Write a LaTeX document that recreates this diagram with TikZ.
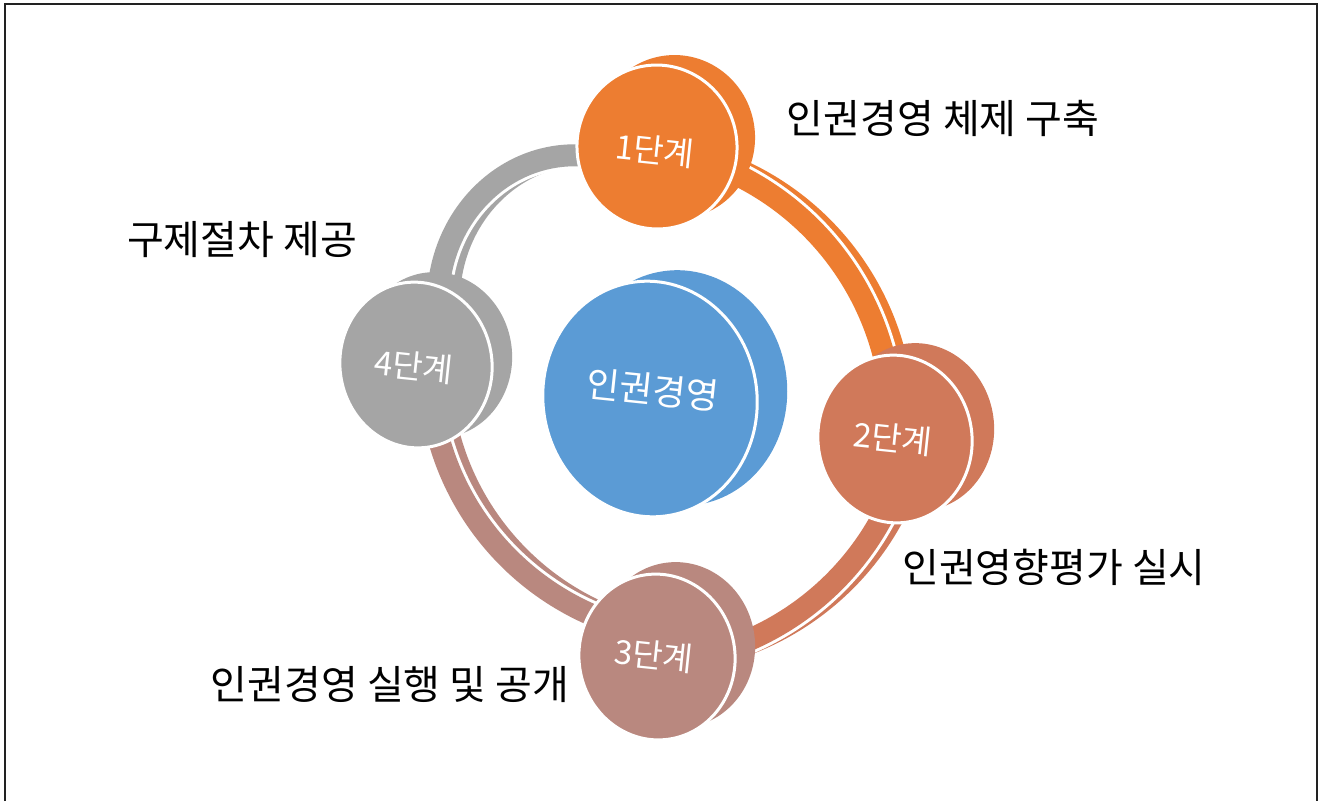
\documentclass[tikz,border=0pt]{standalone}
\usepackage{fontspec}
\newfontfamily\kr{Noto Sans CJK KR}
\definecolor{cOrange}{HTML}{ED7D31}
\definecolor{cRust}{HTML}{D0795A}
\definecolor{cRose}{HTML}{B9887F}
\definecolor{cGray}{HTML}{A5A5A5}
\definecolor{cBlue}{HTML}{5B9BD5}
\definecolor{cFrame}{HTML}{222222}
\tikzset{
  band/.style={line width=22pt, line cap=butt},
  gapband/.style={draw=white, line width=28pt, line cap=butt},
  diskface/.style={draw=white, line width=3pt},
  steplabel/.style={text=white, font=\kr\fontsize{33}{40}\selectfont, rotate=-6, inner sep=0pt},
  hublabel/.style={text=white, font=\kr\fontsize{36}{43}\selectfont, rotate=-6, inner sep=0pt},
  outlabel/.style={text=black, font=\kr\fontsize{40}{48}\selectfont, inner sep=0pt},
}
\begin{document}
\begin{tikzpicture}[x=1pt,y=-1pt]
\useasboundingbox (0,0) rectangle (1319,801);
\fill[white] (0,0) rectangle (1319,801);
\draw[cFrame, line width=2pt] (5,801) -- (5,4) -- (1317,4) -- (1317,801);

% disk centres
\coordinate (n1) at (657,147);
\coordinate (n2) at (895,439);
\coordinate (n3) at (657,657);
\coordinate (n4) at (416,365);
\coordinate (n0) at (650,399);

% arc end points (hidden under the disks)
\coordinate (gs) at (610,160);
\coordinate (ge) at (438,297);
\coordinate (os) at (709,163);
\coordinate (oe) at (890,387);
\coordinate (rs) at (895,490);
\coordinate (re) at (709,654);
\coordinate (bs) at (436,428);
\coordinate (be) at (616,624);

% arc 1 -> 4 (gray)
\draw[band, cGray] ([shift={(11,-1)}]gs) to[out=165,in=88,looseness=1.07] ([shift={(11,-1)}]ge);
\draw[gapband] (gs) to[out=165,in=88,looseness=1.07] (ge);
\draw[band, cGray] (gs) to[out=165,in=88,looseness=1.07] (ge);

% arc 1 -> 2 (orange)
\draw[band, cOrange] ([shift={(11,-1)}]os) to[out=-20,in=98,looseness=0.92] ([shift={(11,-1)}]oe);
\draw[gapband] (os) to[out=-20,in=98,looseness=0.92] (oe);
\draw[band, cOrange] (os) to[out=-20,in=98,looseness=0.92] (oe);

% arc 2 -> 3 (rust)
\draw[band, cRust] ([shift={(11,-1)}]rs) to[out=-112,in=15,looseness=0.9] ([shift={(11,-1)}]re);
\draw[gapband] (rs) to[out=-112,in=15,looseness=0.9] (re);
\draw[band, cRust] (rs) to[out=-112,in=15,looseness=0.9] (re);

% arc 3 -> 4 (rose)
\draw[band, cRose] ([shift={(11,-1)}]bs) to[out=-77,in=162,looseness=0.91] ([shift={(11,-1)}]be);
\draw[gapband] (bs) to[out=-77,in=162,looseness=0.91] (be);
\draw[band, cRose] (bs) to[out=-77,in=162,looseness=0.91] (be);

% disks: back face then front face
\fill[cOrange] ([shift={(18,-10)}]n1) ellipse [x radius=80, y radius=82, rotate=8];
\fill[cOrange, diskface] (n1) ellipse [x radius=80, y radius=82, rotate=8];

\fill[cRust] ([shift={(22,-12)}]n2) ellipse [x radius=77, y radius=84, rotate=8];
\fill[cRust, diskface] (n2) ellipse [x radius=77, y radius=84, rotate=8];

\fill[cRose] ([shift={(20,-12)}]n3) ellipse [x radius=78, y radius=83, rotate=8];
\fill[cRose, diskface] (n3) ellipse [x radius=78, y radius=83, rotate=8];

\fill[cGray] ([shift={(20,-10)}]n4) ellipse [x radius=76, y radius=83, rotate=8];
\fill[cGray, diskface] (n4) ellipse [x radius=76, y radius=83, rotate=8];

\fill[cBlue] ([shift={(30,-11)}]n0) ellipse [x radius=107, y radius=118, rotate=8];
\fill[cBlue, diskface] (n0) ellipse [x radius=107, y radius=118, rotate=8];

% disk labels
\node[steplabel] (t1) at (655,150) {1단계};
\node[steplabel] (t2) at (893,438) {2단계};
\node[steplabel] (t3) at (654,655) {3단계};
\node[steplabel] (t4) at (414,366) {4단계};
\node[hublabel] (t0) at (653,390) {인권경영};

% outside labels
\node[outlabel] (l1) at (943,118) {인권경영 체제 구축};
\node[outlabel] (l2) at (1054,567) {인권영향평가 실시};
\node[outlabel] (l3) at (390,685) {인권경영 실행 및 공개};
\node[outlabel] (l4) at (242,240) {구제절차 제공};
\end{tikzpicture}
\end{document}
